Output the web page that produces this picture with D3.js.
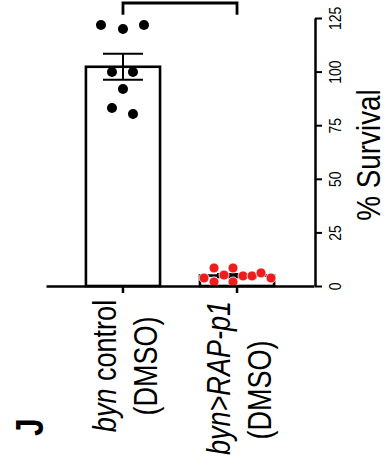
<!DOCTYPE html>
<html>
<head>
<meta charset="utf-8">
<script src="https://cdn.jsdelivr.net/npm/d3@7"></script>
<style>
  body { margin: 0; background: #fff; }
  svg { display: block; font-family: "Liberation Sans", Arial, sans-serif; }
</style>
</head>
<body>
<svg class="chart"></svg>
<script>
// data (% survival per replicate)
var groups = ["control", "rap"];
var controlValues = [121.7, 119.9, 121.7, 99.8, 99.8, 91.9, 83.0, 80.2];
var rapValues = [3.7, 8.4, 1.9, 5.1, 8.4, 1.9, 4.7, 4.7, 6.1, 3.7];
var yTicks = [0, 25, 50, 75, 100, 125];
var axisTitle = "% Survival";

// horizontal spread of the dots (pixels), like the prism scatter
var controlJitter = [-22, 0, 21, -11, 10, 0, -11, 10];
var rapJitter = [-33, -23, -23, -13, -4, -4, 6, 15, 24, 34];

var W = 387, H = 470;
var squeeze = 0.82; // text looks compressed along its reading direction

var svg = d3.select(".chart").attr("width", W).attr("height", H);

var x = d3.scaleBand()
	.domain(groups)
	.range([46, 314])
	.padding(0.35);
var y = d3.scaleLinear()
	.domain([0, 125])
	.range([286, 18]);

var sets = [
	{key: "control", values: controlValues, jitter: controlJitter, color: "#000"},
	{key: "rap", values: rapValues, jitter: rapJitter, color: "#ee1c1c"}
];
sets.forEach(function(s) {
	s.mean = d3.mean(s.values);
	s.sem = d3.deviation(s.values) / Math.sqrt(s.values.length);
});

// bars
svg.selectAll(".bar")
	.data(sets)
.enter().append("rect")
	.attr("class", "bar")
	.attr("x", function(d) { return x(d.key); })
	.attr("y", function(d) { return y(d.mean); })
	.attr("width", x.bandwidth())
	.attr("height", function(d) { return y(0) - y(d.mean); })
	.attr("fill", "#fff")
	.attr("stroke", "#000")
	.attr("stroke-width", 2.6);

// error bars (mean +- SEM)
var err = svg.selectAll(".err")
	.data(sets)
.enter().append("g")
	.attr("class", "err")
	.attr("stroke", "#000")
	.attr("stroke-width", 2);
err.append("line")
	.attr("x1", function(d) { return x(d.key) + x.bandwidth() / 2; })
	.attr("x2", function(d) { return x(d.key) + x.bandwidth() / 2; })
	.attr("y1", function(d) { return y(d.mean + d.sem); })
	.attr("y2", function(d) { return y(d.mean - d.sem); });
[1, -1].forEach(function(sign) {
	err.append("line")
		.attr("x1", function(d) { return x(d.key) + x.bandwidth() / 2 - 20; })
		.attr("x2", function(d) { return x(d.key) + x.bandwidth() / 2 + 20; })
		.attr("y1", function(d) { return y(d.mean + sign * d.sem); })
		.attr("y2", function(d) { return y(d.mean + sign * d.sem); });
});

// dots
sets.forEach(function(s) {
	svg.selectAll(".dot-" + s.key)
		.data(s.values)
	.enter().append("circle")
		.attr("class", "dot-" + s.key)
		.attr("cx", function(d, i) { return x(s.key) + x.bandwidth() / 2 + s.jitter[i]; })
		.attr("cy", function(d) { return y(d); })
		.attr("r", 5)
		.attr("fill", s.color)
		.attr("stroke", s.key == "rap" ? "#fff" : "none")
		.attr("stroke-width", 0.8);
});

// category axis along the bottom
var xAxis = svg.append("g")
	.attr("transform", "translate(0," + y(0) + ")")
	.call(d3.axisBottom(x).tickSize(7).tickSizeOuter(0).tickFormat(""));
xAxis.select(".domain").attr("stroke-width", 2.5);
xAxis.selectAll(".tick line").attr("stroke-width", 2.5);

// value axis on the right
var axisX = x.range()[1] + 1;
var yAxis = svg.append("g")
	.attr("transform", "translate(" + axisX + ",0)")
	.call(d3.axisRight(y).tickValues(yTicks).tickSize(7).tickSizeOuter(0));
yAxis.select(".domain").attr("stroke-width", 2.5);
yAxis.selectAll(".tick line").attr("stroke-width", 2);
yAxis.selectAll(".tick text")
	.attr("x", null)
	.attr("dy", null)
	.attr("text-anchor", "middle")
	.attr("font-size", 17)
	.attr("font-family", "Liberation Sans, Arial, sans-serif")
	.attr("fill", "#000")
	.attr("transform", "translate(26,0) rotate(-90) scale(" + squeeze + ",1)");

svg.append("text")
	.attr("transform", "translate(380,155) rotate(-90) scale(" + squeeze + ",1)")
	.attr("text-anchor", "middle")
	.attr("font-size", 34)
	.text(axisTitle);

// category labels, rotated like the rest of the panel
var labelLines = {
	control: [[{t: "byn", i: true}, {t: " control", i: false}], [{t: "(DMSO)", i: false}]],
	rap: [[{t: "byn>RAP-p1", i: true}], [{t: "(DMSO)", i: false}]]
};
var labelMid = {control: [366, 366], rap: [378, 390]};

groups.forEach(function(g) {
	var cx = x(g) + x.bandwidth() / 2;
	labelLines[g].forEach(function(line, li) {
		var txt = svg.append("text")
			.attr("transform", "translate(" + (cx - 7 + li * 41) + "," + labelMid[g][li] + ") rotate(-90) scale(" + squeeze + ",1)")
			.attr("text-anchor", "middle")
			.attr("font-size", 33);
		line.forEach(function(part) {
			txt.append("tspan")
				.attr("font-style", part.i ? "italic" : "normal")
				.text(part.t);
		});
	});
});

// significance bracket
var bx1 = x("control") + x.bandwidth() / 2, bx2 = x("rap") + x.bandwidth() / 2;
svg.append("path")
	.attr("d", "M" + bx1 + "," + y(126.5) + "V" + y(132) + "H" + bx2 + "V" + y(126.5))
	.attr("fill", "none")
	.attr("stroke", "#000")
	.attr("stroke-width", 2.8);

// panel letter
svg.append("text")
	.attr("transform", "translate(43,427) rotate(-90) scale(" + squeeze + ",1)")
	.attr("text-anchor", "middle")
	.attr("font-size", 39)
	.attr("font-weight", "bold")
	.text("J");
</script>
</body>
</html>
